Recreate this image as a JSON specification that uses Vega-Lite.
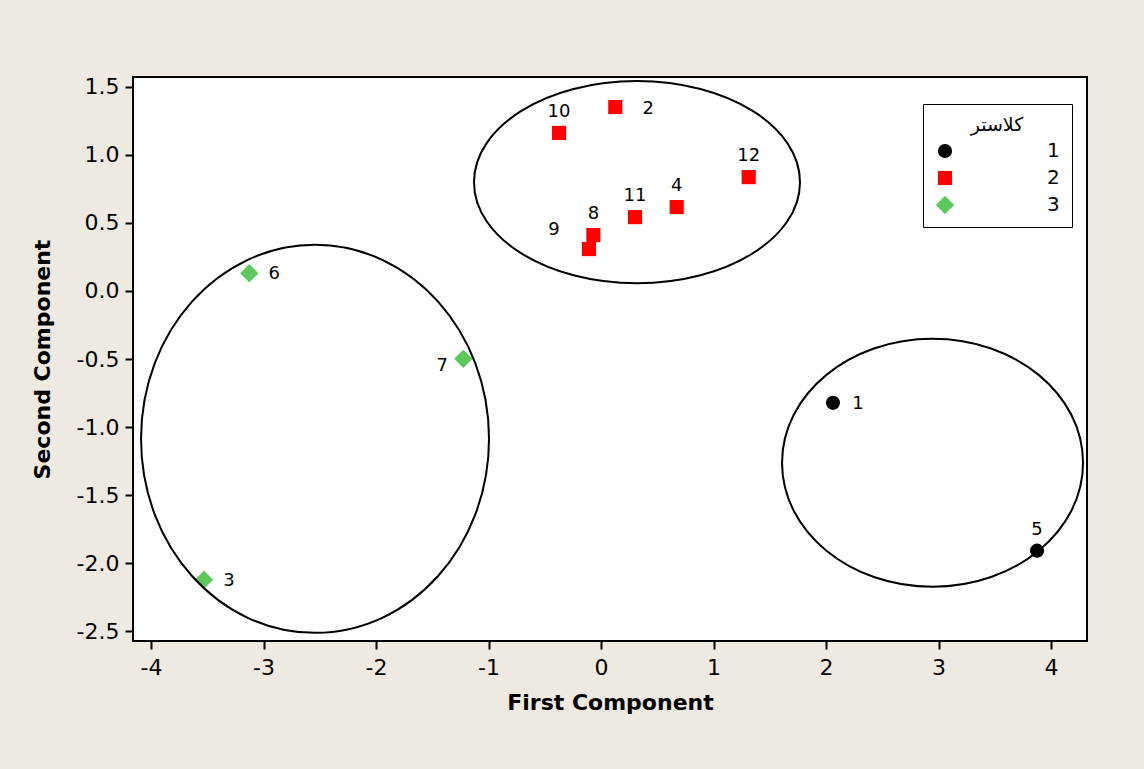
{
  "$schema": "https://vega.github.io/schema/vega-lite/v6.json",
  "width": 954,
  "height": 564,
  "autosize": {"type": "none"},
  "padding": {"left": 133, "top": 77, "right": 57, "bottom": 128},
  "background": "#EEEAE1",
  "config": {
    "font": "DejaVu Sans",
    "locale": {"number": {"decimal": ".", "thousands": ",", "grouping": [3], "currency": ["$", ""], "minus": "-"}},
    "view": {"fill": "white", "stroke": "black", "strokeWidth": 2},
    "axis": {
      "grid": false,
      "domain": false,
      "tickColor": "black",
      "tickWidth": 2,
      "tickSize": 8,
      "labelColor": "black",
      "labelFontSize": 22,
      "labelFont": "DejaVu Sans",
      "titleFont": "DejaVu Sans",
      "titleFontSize": 22,
      "titleFontWeight": "bold",
      "titleColor": "black"
    }
  },
  "datasets": {
    "scores": [
      {"id": 1, "pc1": 2.062, "pc2": -0.822, "cluster": 1},
      {"id": 5, "pc1": 3.876, "pc2": -1.909, "cluster": 1},
      {"id": 2, "pc1": 0.127, "pc2": 1.352, "cluster": 2},
      {"id": 10, "pc1": -0.373, "pc2": 1.162, "cluster": 2},
      {"id": 12, "pc1": 1.313, "pc2": 0.837, "cluster": 2},
      {"id": 4, "pc1": 0.673, "pc2": 0.617, "cluster": 2},
      {"id": 11, "pc1": 0.302, "pc2": 0.543, "cluster": 2},
      {"id": 8, "pc1": -0.068, "pc2": 0.411, "cluster": 2},
      {"id": 9, "pc1": -0.107, "pc2": 0.308, "cluster": 2},
      {"id": 6, "pc1": -3.126, "pc2": 0.130, "cluster": 3},
      {"id": 7, "pc1": -1.224, "pc2": -0.499, "cluster": 3},
      {"id": 3, "pc1": -3.529, "pc2": -2.122, "cluster": 3}
    ],
    "ellipses": [
      {"cluster": 1, "cx": 2.947, "cy": -1.263},
      {"cluster": 2, "cx": 0.320, "cy": 0.800},
      {"cluster": 3, "cx": -2.542, "cy": -1.087}
    ]
  },
  "layer": [
    {
      "data": {"name": "scores"},
      "mark": {"type": "point", "filled": true, "opacity": 1, "size": 200},
      "encoding": {
        "x": {"field": "pc1", "type": "quantitative",
          "scale": {"domain": [-4.16, 4.32], "nice": false, "zero": false},
          "axis": {"values": [-4, -3, -2, -1, 0, 1, 2, 3, 4], "format": "d", "title": "First Component", "labelPadding": 8, "titlePadding": 14}},
        "y": {"field": "pc2", "type": "quantitative",
          "scale": {"domain": [-2.573, 1.573], "nice": false, "zero": false},
          "axis": {"values": [-2.5, -2, -1.5, -1, -0.5, 0, 0.5, 1, 1.5], "format": ".1f", "title": "Second Component", "labelPadding": 6, "titlePadding": 22}},
        "color": {"field": "cluster", "type": "nominal", "title": "كلاستر",
          "scale": {"domain": [1, 2, 3], "range": ["black", "#FF0000", "#5DC95D"]},
          "legend": {
            "orient": "none", "legendX": 790, "legendY": 27,
            "strokeColor": "black", "fillColor": "white",
            "padding": 12, "labelOffset": 92, "labelFontSize": 20, "labelColor": "black",
            "titleFontSize": 19, "titleFontWeight": "normal", "titleColor": "black", "titleFont": "DejaVu Sans",
            "titleAnchor": "middle", "titlePadding": 6, "rowPadding": 7,
            "symbolSize": 200, "symbolStrokeWidth": 0}},
        "shape": {"field": "cluster", "type": "nominal", "title": "كلاستر",
          "scale": {"domain": [1, 2, 3], "range": ["circle", "square", "M 0 -1.3 L 1.3 0 L 0 1.3 L -1.3 0 Z"]},
          "legend": {
            "orient": "none", "legendX": 790, "legendY": 27,
            "strokeColor": "black", "fillColor": "white",
            "padding": 12, "labelOffset": 92, "labelFontSize": 20, "labelColor": "black",
            "titleFontSize": 19, "titleFontWeight": "normal", "titleColor": "black", "titleFont": "DejaVu Sans",
            "titleAnchor": "middle", "titlePadding": 6, "rowPadding": 7,
            "symbolSize": 200, "symbolStrokeWidth": 0}}
      }
    },
    {
      "mark": {"type": "rule", "color": "#3a3a3a", "strokeWidth": 2},
      "encoding": {"x": {"datum": 0, "type": "quantitative"}}
    },
    {
      "mark": {"type": "rule", "color": "#3a3a3a", "strokeWidth": 2},
      "encoding": {"y": {"datum": 0, "type": "quantitative"}}
    },
    {
      "data": {"name": "ellipses"},
      "transform": [{"filter": "datum.cluster == 1"}],
      "mark": {"type": "point", "filled": false, "stroke": "black", "strokeWidth": 2, "opacity": 1, "size": 90601,
        "shape": "M 1 0 C 1 0.4551 0.5523 0.824 0 0.824 C -0.5523 0.824 -1 0.4551 -1 0 C -1 -0.4551 -0.5523 -0.824 0 -0.824 C 0.5523 -0.824 1 -0.4551 1 0 Z"},
      "encoding": {
        "x": {"field": "cx", "type": "quantitative"},
        "y": {"field": "cy", "type": "quantitative"}
      }
    },
    {
      "data": {"name": "ellipses"},
      "transform": [{"filter": "datum.cluster == 2"}],
      "mark": {"type": "point", "filled": false, "stroke": "black", "strokeWidth": 2, "opacity": 1, "size": 106276,
        "shape": "M 1 0 C 1 0.3424 0.5523 0.62 0 0.62 C -0.5523 0.62 -1 0.3424 -1 0 C -1 -0.3424 -0.5523 -0.62 0 -0.62 C 0.5523 -0.62 1 -0.3424 1 0 Z"},
      "encoding": {
        "x": {"field": "cx", "type": "quantitative"},
        "y": {"field": "cy", "type": "quantitative"}
      }
    },
    {
      "data": {"name": "ellipses"},
      "transform": [{"filter": "datum.cluster == 3"}],
      "mark": {"type": "point", "filled": false, "stroke": "black", "strokeWidth": 2, "opacity": 1, "size": 121104,
        "shape": "M 1 0 C 1 0.6158 0.5523 1.115 0 1.115 C -0.5523 1.115 -1 0.6158 -1 0 C -1 -0.6158 -0.5523 -1.115 0 -1.115 C 0.5523 -1.115 1 -0.6158 1 0 Z"},
      "encoding": {
        "x": {"field": "cx", "type": "quantitative"},
        "y": {"field": "cy", "type": "quantitative"}
      }
    },
    {
      "data": {"name": "scores"},
      "transform": [{"filter": {"field": "id", "oneOf": [10, 12, 4, 11, 8, 5]}}],
      "mark": {"type": "text", "fontSize": 18, "color": "black", "dy": -21},
      "encoding": {
        "x": {"field": "pc1", "type": "quantitative"},
        "y": {"field": "pc2", "type": "quantitative"},
        "text": {"field": "id", "type": "nominal"}
      }
    },
    {
      "data": {"name": "scores"},
      "transform": [{"filter": {"field": "id", "oneOf": [6, 3, 1]}}],
      "mark": {"type": "text", "fontSize": 18, "color": "black", "dx": 25, "dy": 1},
      "encoding": {
        "x": {"field": "pc1", "type": "quantitative"},
        "y": {"field": "pc2", "type": "quantitative"},
        "text": {"field": "id", "type": "nominal"}
      }
    },
    {
      "data": {"name": "scores"},
      "transform": [{"filter": {"field": "id", "oneOf": [2]}}],
      "mark": {"type": "text", "fontSize": 18, "color": "black", "dx": 33, "dy": 2},
      "encoding": {
        "x": {"field": "pc1", "type": "quantitative"},
        "y": {"field": "pc2", "type": "quantitative"},
        "text": {"field": "id", "type": "nominal"}
      }
    },
    {
      "data": {"name": "scores"},
      "transform": [{"filter": {"field": "id", "oneOf": [9]}}],
      "mark": {"type": "text", "fontSize": 18, "color": "black", "dx": -35, "dy": -19},
      "encoding": {
        "x": {"field": "pc1", "type": "quantitative"},
        "y": {"field": "pc2", "type": "quantitative"},
        "text": {"field": "id", "type": "nominal"}
      }
    },
    {
      "data": {"name": "scores"},
      "transform": [{"filter": {"field": "id", "oneOf": [7]}}],
      "mark": {"type": "text", "fontSize": 18, "color": "black", "dx": -21, "dy": 7},
      "encoding": {
        "x": {"field": "pc1", "type": "quantitative"},
        "y": {"field": "pc2", "type": "quantitative"},
        "text": {"field": "id", "type": "nominal"}
      }
    }
  ]
}
